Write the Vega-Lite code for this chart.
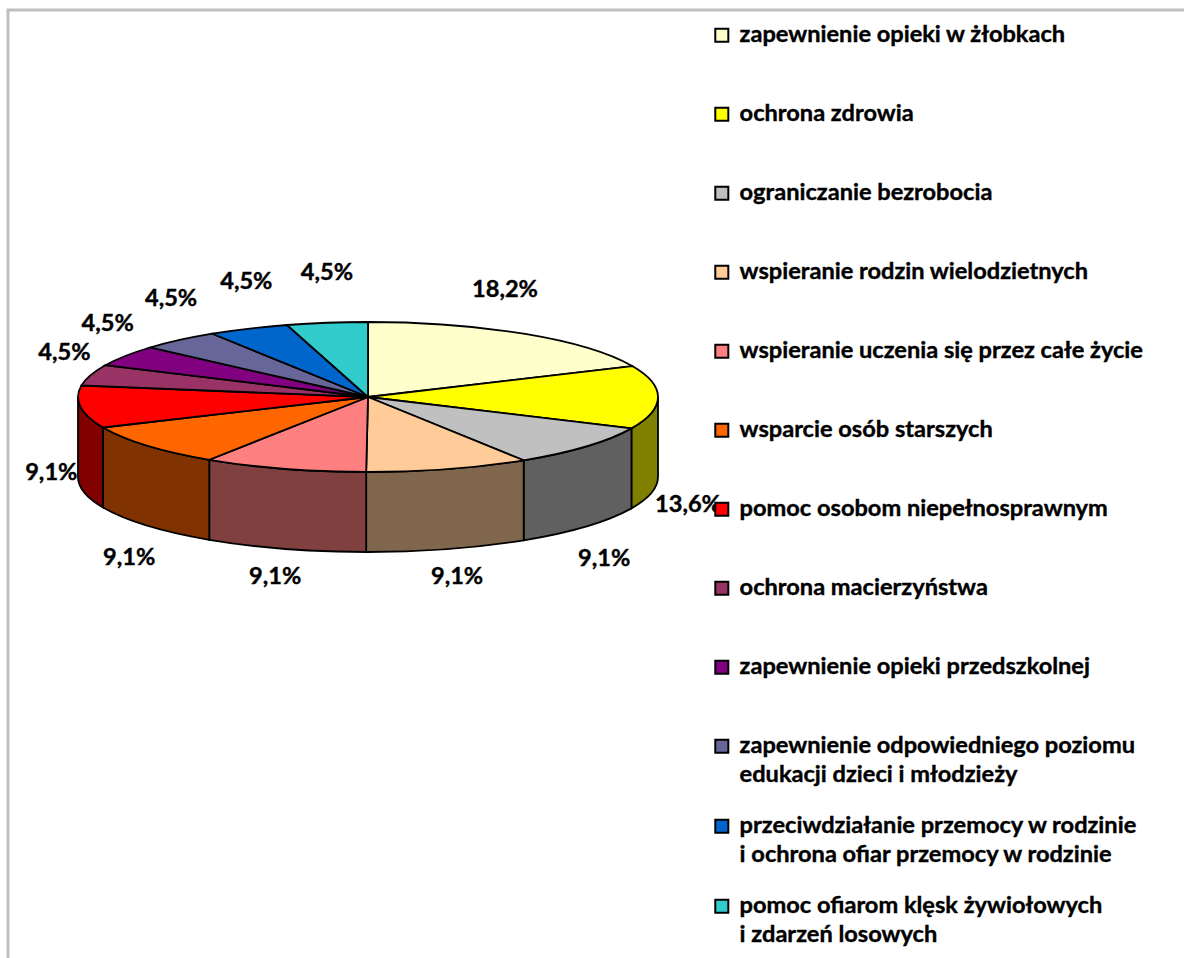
{
"$schema":"https://vega.github.io/schema/vega-lite/v6.json",
"width":1186,"height":958,
"padding":{"left":8,"top":10,"right":0,"bottom":0},
"autosize":{"type":"none"},
"background":"white",
"view":{"stroke":"#c0c0c0","strokeWidth":3,"fill":"white"},
"data":{"values":[
{"order":1,"category":"zapewnienie opieki w żłobkach","share":18.2},
{"order":2,"category":"ochrona zdrowia","share":13.6},
{"order":3,"category":"ograniczanie bezrobocia","share":9.1},
{"order":4,"category":"wspieranie rodzin wielodzietnych","share":9.1},
{"order":5,"category":"wspieranie uczenia się przez całe życie","share":9.1},
{"order":6,"category":"wsparcie osób starszych","share":9.1},
{"order":7,"category":"pomoc osobom niepełnosprawnym","share":9.1},
{"order":8,"category":"ochrona macierzyństwa","share":4.5},
{"order":9,"category":"zapewnienie opieki przedszkolnej","share":4.5},
{"order":10,"category":"zapewnienie odpowiedniego poziomu edukacji dzieci i młodzieży","share":4.5},
{"order":11,"category":"przeciwdziałanie przemocy w rodzinie i ochrona ofiar przemocy w rodzinie","share":4.5},
{"order":12,"category":"pomoc ofiarom klęsk żywiołowych i zdarzeń losowych","share":4.5}
]},
"transform":[
{"joinaggregate":[{"op":"sum","field":"share","as":"total"}]},
{"window":[{"op":"sum","field":"share","as":"cum"}],"sort":[{"field":"order"}]},
{"calculate":"(datum.cum-datum.share)/datum.total*2*PI","as":"a0"},
{"calculate":"datum.cum/datum.total*2*PI","as":"a1"},
{"calculate":"(datum.a0+datum.a1)/2","as":"mid"},
{"calculate":"sin(datum.mid)","as":"s"},
{"calculate":"cos(datum.mid)","as":"c"},
{"calculate":"'M0,0L'+290*sin(datum.a0)+','+(-75*cos(datum.a0))+'A290,75 0 0 1 '+290*sin(datum.a1)+','+(-75*cos(datum.a1))+'Z'","as":"topPath"},
{"calculate":"max(datum.a0,PI/2)","as":"w0"},
{"calculate":"min(datum.a1,3*PI/2)","as":"w1"},
{"calculate":"'M'+290*sin(datum.w0)+','+(-75*cos(datum.w0))+'A290,75 0 0 1 '+290*sin(datum.w1)+','+(-75*cos(datum.w1))+'L'+290*sin(datum.w1)+','+(80-75*cos(datum.w1))+'A290,75 0 0 0 '+290*sin(datum.w0)+','+(80-75*cos(datum.w0))+'Z'","as":"wallPath"},
{"calculate":"290*datum.s+30*datum.s*datum.s*datum.s-(datum.s>0&&datum.c>0.1?25:0)+(datum.c<0?35*datum.s*datum.c*datum.c*datum.c*datum.c:0)","as":"labelX"},
{"calculate":"datum.c>0.01?-11-114*datum.c:108-98*datum.c-24*datum.c*datum.c-(datum.s<-0.9?45:0)","as":"labelY"},
{"calculate":"replace(format(datum.share,'.1f'),'.',',')+'%'","as":"label"}
],
"layer":[
{
"transform":[{"filter":"datum.w1>datum.w0"}],
"mark":{"type":"point","filled":true,"opacity":1,"size":4,"stroke":"black","strokeWidth":1.8},
"encoding":{
"x":{"datum":0,"type":"quantitative","scale":{"domain":[-360,826],"nice":false,"zero":false},"axis":null},
"y":{"datum":0,"type":"quantitative","scale":{"domain":[-387,571],"nice":false,"zero":false,"reverse":true},"axis":null},
"shape":{"field":"wallPath","type":"nominal","scale":null,"legend":null},
"fill":{"field":"category","type":"nominal","legend":null,"sort":null,"scale":{
"domain":["ochrona zdrowia","ograniczanie bezrobocia","wspieranie rodzin wielodzietnych","wspieranie uczenia się przez całe życie","wsparcie osób starszych","pomoc osobom niepełnosprawnym"],
"range":["#808000","#606060","#80664c","#804040","#803300","#800000"]}}
}
},
{
"mark":{"type":"point","filled":true,"opacity":1,"size":4,"stroke":"black","strokeWidth":1.8},
"encoding":{
"x":{"datum":0,"type":"quantitative"},
"y":{"datum":0,"type":"quantitative"},
"shape":{"field":"topPath","type":"nominal","scale":null,"legend":null},
"color":{"field":"category","type":"nominal","scale":{
"domain":["zapewnienie opieki w żłobkach","ochrona zdrowia","ograniczanie bezrobocia","wspieranie rodzin wielodzietnych","wspieranie uczenia się przez całe życie","wsparcie osób starszych","pomoc osobom niepełnosprawnym","ochrona macierzyństwa","zapewnienie opieki przedszkolnej","zapewnienie odpowiedniego poziomu edukacji dzieci i młodzieży","przeciwdziałanie przemocy w rodzinie i ochrona ofiar przemocy w rodzinie","pomoc ofiarom klęsk żywiołowych i zdarzeń losowych"],
"range":["#FFFFCC","#FFFF00","#C0C0C0","#FFCC99","#FF8080","#FF6600","#FF0000","#993366","#800080","#666699","#0066CC","#33CCCC"]},
"legend":{"orient":"none","legendX":702,"legendY":-14,"title":null,"symbolType":"square","symbolSize":170,"symbolStrokeColor":"black","symbolStrokeWidth":2,"symbolOpacity":1,"labelFont":"Lato","labelFontWeight":"bold","labelFontSize":23.6,"labelColor":"black","labelLimit":470,"labelOffset":6,"columns":1,"clipHeight":78.7,"rowPadding":0,"padding":0,
"labelExpr":"split(replace(replace(replace(datum.label,' edukacji','|edukacji'),' i ochrona','|i ochrona'),' i zdarzeń','|i zdarzeń'),'|')",
"encoding":{"labels":{"lineHeight":{"value":29},"stroke":{"value":"black"},"strokeWidth":{"value":0.4}}}}}
}
},
{
"mark":{"type":"text","font":"Lato","fontWeight":"bold","fontSize":23.6,"color":"black","stroke":"black","strokeWidth":0.4,"align":"center","baseline":"middle"},
"encoding":{
"x":{"field":"labelX","type":"quantitative"},
"y":{"field":"labelY","type":"quantitative"},
"text":{"field":"label","type":"nominal"}
}
}
]
}
